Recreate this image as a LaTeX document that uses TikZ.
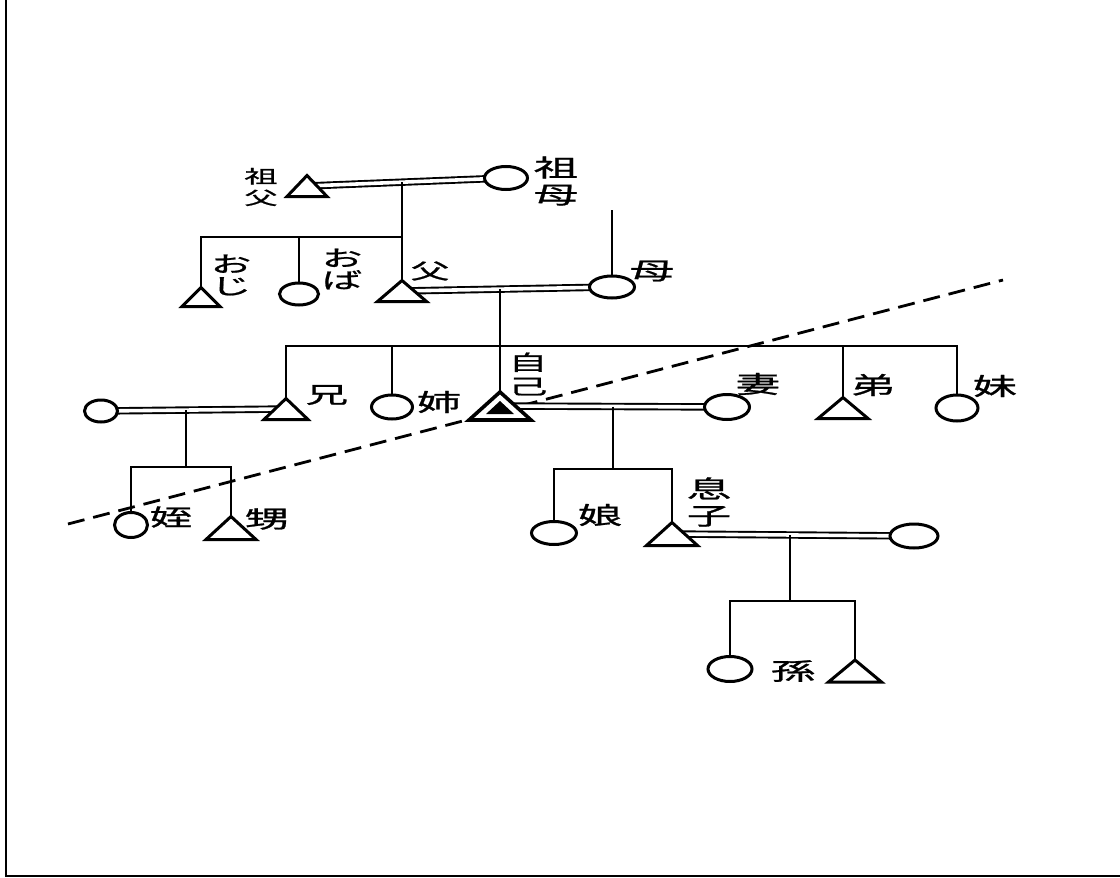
\documentclass[tikz,border=0pt]{standalone}
\usepackage{fontspec}
\newfontfamily\jp[FakeStretch=1.85,FakeBold=1]{Noto Sans CJK JP}
\usetikzlibrary{shapes.geometric,backgrounds}
\begin{document}
\begin{tikzpicture}[x=1pt,y=-1pt,
  conn/.style={line width=2.6pt},
  marr/.style={draw=black, line width=1.9pt, double=white, double distance=3.6pt},
  shapeline/.style={draw=black, line width=3pt, line join=miter},
  circ/.style={ellipse, shapeline, fill=white, inner sep=0pt, minimum width=44pt, minimum height=24pt},
  tri/.style={rectangle, inner sep=0pt, outer sep=0pt, minimum width=#1, minimum height=21pt,
    append after command={\pgfextra{\let\trinode\tikzlastnode
      \draw[shapeline, fill=white] (\trinode.north) -- (\trinode.south east) -- (\trinode.south west) -- cycle;}}},
  tri/.default=48pt,
  selftri/.style={rectangle, inner sep=0pt, outer sep=0pt, minimum width=62pt, minimum height=28pt,
    append after command={\pgfextra{\let\trinode\tikzlastnode
      \draw[shapeline, line width=3.6pt, fill=white] (\trinode.north) -- (\trinode.south east) -- (\trinode.south west) -- cycle;}}},
  lab/.style={inner sep=0pt, align=center, font=\jp\fontsize{24}{26}\selectfont},
  smalllab/.style={inner sep=0pt, align=center, font=\jp\fontsize{18}{21.5}\selectfont},
  kana/.style={inner sep=0pt, align=center, font=\jp\fontsize{22}{22}\selectfont},
  dashline/.style={line width=2.8pt, dash pattern=on 17pt off 9pt}
]
\useasboundingbox (0,0) rectangle (1120,878);
\draw[line width=2pt] (6,0) -- (6,876) -- (1120,876);

% persons
\node[tri=40pt] (gf) at (307,186) {};
\node[circ, minimum width=43pt, minimum height=23pt] (gm) at (506,178) {};
\node[tri=38pt, minimum height=19pt] (oji) at (201,297) {};
\node[circ, minimum width=39pt, minimum height=22pt] (oba) at (299,294) {};
\node[tri=49pt] (fa) at (402,291) {};
\node[circ, minimum width=45pt, minimum height=22pt] (mo) at (612,287) {};
\node[tri=44pt] (ani) at (286,409) {};
\node[circ, minimum width=33pt, minimum height=22pt] (aniw) at (101,411) {};
\node[circ, minimum width=41pt, minimum height=24pt] (ane) at (392,407) {};
\node[selftri] (self) at (500,406) {};
\fill (self.center) ++(0,-5) -- ++(14,13) -- ++(-28,0) -- cycle;
\node[circ, minimum width=45pt, minimum height=25pt] (tsuma) at (727,407) {};
\node[tri=50pt] (oto) at (843,408) {};
\node[circ, minimum width=42pt, minimum height=26pt] (imo) at (957,408) {};
\node[circ, minimum width=33pt, minimum height=25pt] (mei) at (131,525) {};
\node[tri=50pt, minimum height=23pt] (oi) at (231,528) {};
\node[circ, minimum width=45pt, minimum height=23pt] (musume) at (554,533) {};
\node[tri=51pt, minimum height=23pt] (musuko) at (672,534) {};
\node[circ, minimum width=48pt, minimum height=24pt] (yome) at (914,536) {};
\node[circ, minimum width=44pt, minimum height=25pt] (mago1) at (730,669) {};
\node[tri=53pt, minimum height=22pt] (mago2) at (855,671) {};

% labels
\node[smalllab] (lgf) at (261,187) {祖\\父};
\node[lab, font=\jp\fontsize{24}{27}\selectfont] (lgm) at (556,181) {祖\\母};
\node[kana] (loji) at (231,275) {お\\じ};
\node[kana] (loba) at (342,269) {お\\ば};
\node[lab, font=\jp\fontsize{21}{22}\selectfont] (lfa) at (430,271) {父};
\node[lab] (lmo) at (652,271) {母};
\node[lab, font=\jp\fontsize{23}{23}\selectfont] (lani) at (327,395) {兄};
\node[lab] (lane) at (439,402) {姉};
\node[lab, font=\jp\fontsize{21}{24}\selectfont] (lself) at (528,374) {自\\己};
\node[lab] (ltsuma) at (758,384) {妻};
\node[lab] (loto) at (873,385) {弟};
\node[lab] (limo) at (995,386) {妹};
\node[lab, font=\jp\fontsize{23}{23}\selectfont] (lmei) at (171,517) {姪};
\node[lab] (loi) at (267,519) {甥};
\node[lab] (lmusume) at (600,515) {娘};
\node[lab, font=\jp\fontsize{24}{27}\selectfont] (lmusuko) at (709,502) {息\\子};
\node[lab] (lmago) at (793,671) {孫};

% junction coordinates
\coordinate (u1) at (402,182);
\coordinate (b1) at (402,237);
\coordinate (mtop) at (612,210);
\coordinate (u2) at (500,289);
\coordinate (b2) at (500,346);
\coordinate (u3) at (186,410);
\coordinate (b3) at (186,467);
\coordinate (u4) at (613,406.5);
\coordinate (b4) at (613,469);
\coordinate (u5) at (790,535);
\coordinate (b5) at (790,601);
\coordinate (dl1) at (68,524);
\coordinate (dl2) at (1003,280);

\begin{pgfonlayer}{background}
\draw[dashline] (dl1) -- (dl2);
% marriages
\draw[marr] (gf.center) -- (gm.center);
\draw[marr] (fa.center) -- (mo.center);
\draw[marr] (aniw.center) -- (ani.center);
\draw[marr] (self.center) -- (tsuma.center);
\draw[marr] (musuko.center) -- (yome.center);
% descent
\draw[conn] (u1) -- (fa.north);
\draw[conn] (oji.north) |- (b1);
\draw[conn] (oba.north) -- (oba.north |- b1);
\draw[conn] (mtop) -- (mo.north);
\draw[conn] (u2) -- (self.north);
\draw[conn] (ani.north) |- (b2) -| (imo.north);
\draw[conn] (ane.north) -- (ane.north |- b2);
\draw[conn] (oto.north) -- (oto.north |- b2);
\draw[conn] (u3) -- (b3);
\draw[conn] (mei.north) |- (b3) -| (oi.north);
\draw[conn] (u4) -- (b4);
\draw[conn] (musume.north) |- (b4) -| (musuko.north);
\draw[conn] (u5) -- (b5);
\draw[conn] (mago1.north) |- (b5) -| (mago2.north);
\end{pgfonlayer}
\end{tikzpicture}
\end{document}
